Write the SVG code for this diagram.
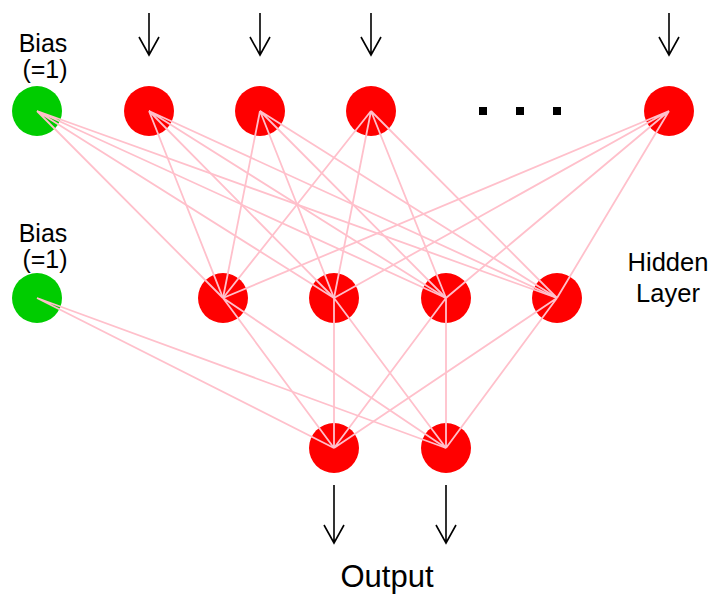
<svg xmlns="http://www.w3.org/2000/svg" width="713" height="600" viewBox="0 0 713 600">
<style>
.red{fill:#ff0000}
.green{fill:#00cc00}
.edge{stroke:#ffc0cb;stroke-width:1.8;fill:none}
.arr{stroke:#000;stroke-width:1.6;fill:none}
.lbl{font-family:"Liberation Sans",Arial,sans-serif;font-size:25px;fill:#000;text-anchor:middle}
</style>
<rect width="713" height="600" fill="#fff"/>
<g id="nodes">
<g id="bias1"><circle class="green" cx="37" cy="111" r="25"/><text class="lbl" x="43" y="52">Bias</text><text class="lbl" x="45" y="78">(=1)</text></g>
<g id="in1"><circle class="red" cx="149" cy="111" r="25"/></g>
<g id="in2"><circle class="red" cx="260" cy="111" r="25"/></g>
<g id="in3"><circle class="red" cx="371" cy="111" r="25"/></g>
<g id="ellipsis"><rect x="479" y="107" width="8" height="8"/><rect x="516" y="107" width="8" height="8"/><rect x="553" y="107" width="8" height="8"/></g>
<g id="inN"><circle class="red" cx="669" cy="111" r="25"/></g>
<g id="bias2"><circle class="green" cx="37" cy="298" r="25"/><text class="lbl" x="43" y="242">Bias</text><text class="lbl" x="45" y="268">(=1)</text></g>
<g id="h1"><circle class="red" cx="223" cy="298" r="25"/></g>
<g id="h2"><circle class="red" cx="334" cy="298" r="25"/></g>
<g id="h3"><circle class="red" cx="446" cy="298" r="25"/></g>
<g id="h4"><circle class="red" cx="557" cy="298" r="25"/></g>
<g id="hiddenLabel"><text class="lbl" x="668" y="271" style="font-size:25.5px">Hidden</text><text class="lbl" x="668" y="302" style="font-size:25.5px">Layer</text></g>
<g id="o1"><circle class="red" cx="334" cy="448" r="25"/></g>
<g id="o2"><circle class="red" cx="446" cy="448" r="25"/></g>
<g id="outputLabel"><text class="lbl" x="387" y="587" style="font-size:31px">Output</text></g>
</g>
<g id="connectors">
<g class="edge">
<path d="M37 111L223 298M37 111L334 298M37 111L446 298M37 111L557 298"/>
<path d="M149 111L223 298M149 111L334 298M149 111L446 298M149 111L557 298"/>
<path d="M260 111L223 298M260 111L334 298M260 111L446 298M260 111L557 298"/>
<path d="M371 111L223 298M371 111L334 298M371 111L446 298M371 111L557 298"/>
<path d="M669 111L223 298M669 111L334 298M669 111L446 298M669 111L557 298"/>
<path d="M37 298L334 448M37 298L446 448"/>
<path d="M223 298L334 448M223 298L446 448M334 298L334 448M334 298L446 448"/>
<path d="M446 298L334 448M446 298L446 448M557 298L334 448M557 298L446 448"/>
</g>
<g class="arr">
<path d="M149 13V55M139 37L149 55L159 37"/>
<path d="M260 13V55M250 37L260 55L270 37"/>
<path d="M371 13V55M361 37L371 55L381 37"/>
<path d="M669 13V55M659 37L669 55L679 37"/>
<path d="M334 485V543M324 525L334 543L344 525"/>
<path d="M446 485V543M436 525L446 543L456 525"/>
</g>
</g>
</svg>
